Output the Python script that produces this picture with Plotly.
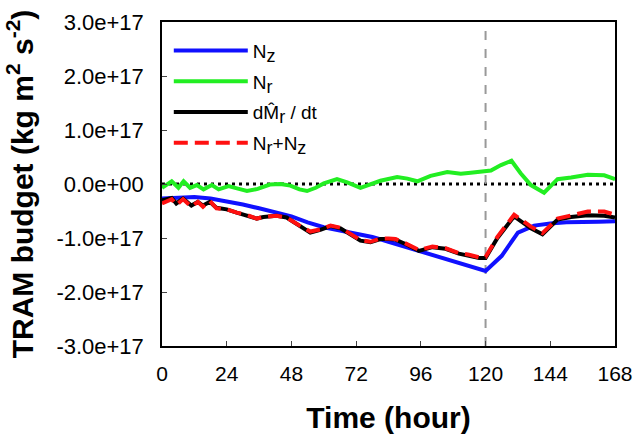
import plotly.graph_objects as go

# ---- data (units of 1e17 kg m2 s-2) ----
t_nz = [0, 6, 12, 18, 24, 30, 36, 42, 48, 54, 60, 66, 72, 78, 84, 90, 96, 102, 108, 114, 120,
        126, 132, 138, 144, 150, 156, 162, 168]
nz = [-0.27, -0.25, -0.24, -0.27, -0.32, -0.38, -0.45, -0.52, -0.60, -0.71, -0.80, -0.86, -0.92,
      -0.98, -1.07, -1.16, -1.26, -1.35, -1.43, -1.52, -1.61,
      -1.33, -0.90, -0.77, -0.73, -0.71, -0.71, -0.70, -0.69]

t_nr = [0, 1.8, 3.6, 6.1, 8.0, 10.4, 12.9, 15.4, 18.5, 21.0, 24.7, 27.8, 31.5, 35.5, 40, 43.9,
        47.6, 51, 53.8, 57, 60, 64.9, 68.7, 73.6, 78.5, 81, 87.2, 91, 94.7, 99.6, 105.8, 110.8,
        114.5, 119.4, 122, 125.7, 129.6, 133, 136.8, 141.7, 146.7, 151.7, 157.9, 164, 168]
nr = [-0.07, -0.01, 0.05, -0.07, 0.05, -0.07, -0.02, -0.10, -0.02, -0.10, -0.04, -0.08, -0.13,
      -0.09, -0.01, 0.00, -0.03, -0.10, -0.13, -0.07, 0.01, 0.09, 0.03, -0.07, 0.02, 0.06,
      0.13, 0.10, 0.05, 0.15, 0.22, 0.19, 0.21, 0.23, 0.25, 0.35, 0.43, 0.20, -0.02, -0.16,
      0.09, 0.12, 0.17, 0.16, 0.09]

t_sum = [0, 3.6, 5.3, 7.8, 10.9, 13.3, 15.2, 17.7, 20.2, 24, 27.7, 31.4, 35.1, 37.6, 42.5, 46.2,
         51.3, 55, 58.7, 62.5, 66.2, 69.9, 73.6, 77.3, 81, 84, 86.6, 90.3, 95.3, 100.3, 105.2,
         110.1, 113.9, 117.6, 120, 124.4, 130.6, 136.8, 141.1, 146.7, 151.7, 157.9, 164, 168]
dmdt = [-0.30, -0.26, -0.36, -0.27, -0.40, -0.33, -0.40, -0.33, -0.44, -0.47, -0.53, -0.58,
        -0.64, -0.61, -0.59, -0.62, -0.79, -0.90, -0.85, -0.78, -0.82, -0.93, -1.05, -1.08,
        -1.02, -1.02, -1.03, -1.11, -1.24, -1.17, -1.20, -1.29, -1.33, -1.37, -1.37, -1.00,
        -0.60, -0.82, -0.93, -0.66, -0.61, -0.58, -0.59, -0.62]
nsum = [-0.36, -0.28, -0.39, -0.28, -0.42, -0.33, -0.42, -0.31, -0.45, -0.47, -0.53, -0.57,
        -0.64, -0.61, -0.59, -0.62, -0.78, -0.88, -0.84, -0.77, -0.81, -0.92, -1.04, -1.07,
        -1.01, -1.01, -1.02, -1.10, -1.22, -1.16, -1.19, -1.28, -1.31, -1.36, -1.35, -0.98,
        -0.57, -0.79, -0.91, -0.64, -0.59, -0.51, -0.51, -0.57]

scale = 1e17
x_ticks = [0, 24, 48, 72, 96, 120, 144, 168]
y_tickvals = [3, 2, 1, 0, -1, -2, -3]
y_ticktext = ["3.0e+17", "2.0e+17", "1.0e+17", "0.0e+00", "-1.0e+17", "-2.0e+17", "-3.0e+17"]
event_hour = 120

FONT = "Liberation Sans, Arial, sans-serif"
SUB = "<sub><span style='font-size:18px'>%s</span></sub>"

fig = go.Figure()
fig.add_trace(go.Scatter(x=t_nz, y=[v * scale for v in nz], mode="lines",
                         name="N" + SUB % "z",
                         line=dict(color="#1010ff", width=4), legendgroup="a"))
fig.add_trace(go.Scatter(x=t_nr, y=[v * scale for v in nr], mode="lines",
                         name="N" + SUB % "r",
                         line=dict(color="#22ee22", width=4), legendgroup="b"))
fig.add_trace(go.Scatter(x=t_sum, y=[v * scale for v in dmdt], mode="lines",
                         name="dM\u0302" + SUB % "r" + " / dt",
                         line=dict(color="black", width=4), legendgroup="c"))
fig.add_trace(go.Scatter(x=t_sum, y=[v * scale for v in nsum], mode="lines",
                         name="N" + SUB % "r" + "+N" + SUB % "z",
                         line=dict(color="#ff1010", width=4, dash="14px,7px"), legendgroup="d"))

fig.add_hline(y=0, line=dict(color="black", width=3, dash="3px,4px"), layer="below")
fig.add_vline(x=event_hour, line=dict(color="#999999", width=2, dash="dash"), layer="below")

fig.update_layout(
    width=637, height=434,
    margin=dict(l=162, r=22, t=22, b=88),
    paper_bgcolor="white", plot_bgcolor="white",
    font=dict(family=FONT, color="black", size=21),
    showlegend=True,
    legend=dict(x=0.015, y=0.97, xanchor="left", yanchor="top", bgcolor="rgba(0,0,0,0)",
                font=dict(size=19), itemwidth=74, tracegroupgap=3, traceorder="grouped"),
)
fig.update_xaxes(range=[0, 168], tickvals=x_ticks, ticks="inside", ticklen=5, tickwidth=1,
                 showline=True, linecolor="black", linewidth=1.5, mirror=True, showgrid=False,
                 zeroline=False, tickfont=dict(size=21), automargin=False, ticklabelstandoff=8,
                 title=dict(text="<b>Time (hour)</b>", font=dict(size=30), standoff=26))
fig.update_yaxes(range=[-3 * scale, 3 * scale], tickvals=[v * scale for v in y_tickvals],
                 ticktext=y_ticktext, ticks="inside", ticklen=5, tickwidth=1,
                 showline=True, linecolor="black", linewidth=1.5, mirror=True, showgrid=False,
                 zeroline=False, tickfont=dict(size=22), automargin=False, ticklabelstandoff=12,
                 title=dict(text="<b>TRAM budget (kg m<sup>2</sup> s<sup>-2</sup>)</b>",
                            font=dict(size=30), standoff=14))

fig.write_html("out.html", config={"displayModeBar": False},
               post_script="document.body.style.margin='0';")
